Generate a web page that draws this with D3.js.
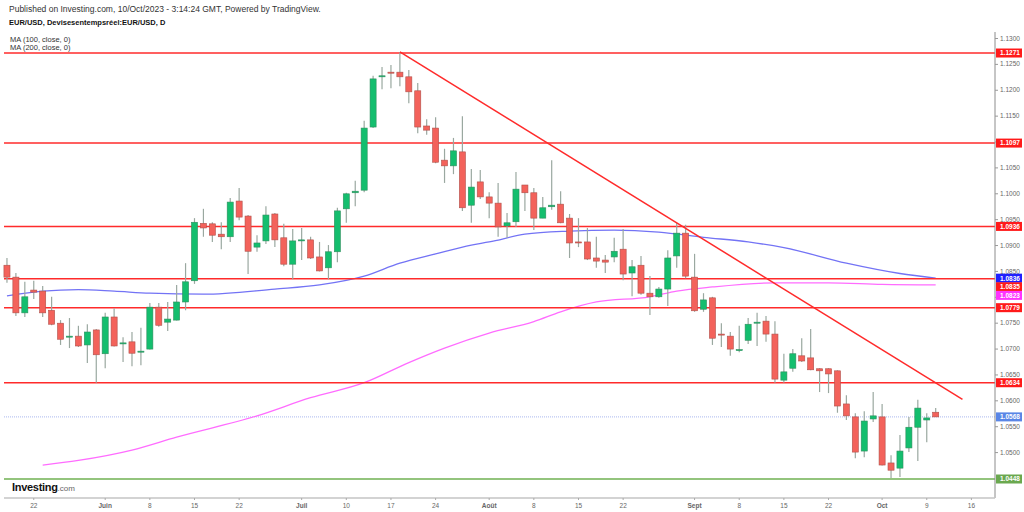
<!DOCTYPE html>
<html>
<head>
<meta charset="utf-8">
<script src="https://cdn.jsdelivr.net/npm/d3@7"></script>
<style>
  body { margin: 0; background: #fff; }
  svg { display: block; font-family: "Liberation Sans", Arial, sans-serif; }
</style>
</head>
<body>
<div id="chart-area"></div>
<script>
// EUR/USD daily candles, 17 May -> 10 Oct 2023
let firstDay = "2023-05-17";
let lastAxisDay = "2023-10-20"; // axis runs a few days past the last candle

let open = [1.0861,1.0838,1.0769,1.0813,1.0811,1.0774,1.0749,1.0722,1.0724,1.0707,1.0736,
  1.0690,1.0761,1.0709,1.0713,1.0693,1.0699,1.0780,1.0751,1.0755,1.0790,1.0831,1.0942,1.0941,1.0921,1.0916,1.0985,1.0956,1.0896,1.0908,1.0960,1.0914,1.0863,
  1.0908,1.0910,1.0877,1.0856,1.0887,1.0970,1.1001,1.1006,1.1128,1.1225,1.1234,1.1234,1.1225,1.1198,1.1130,1.1126,1.1064,1.1053,1.1080,1.0977,1.1022,
  1.0993,1.0981,1.0937,1.0945,1.1016,1.1001,1.0952,1.0974,1.0979,1.0952,1.0906,1.0906,1.0875,1.0871,1.0877,1.0892,1.0846,1.0861,1.0807,1.0800,1.0815,1.0879,1.0923,
  1.0838,1.0776,1.0798,1.0728,1.0724,1.0696,1.0716,1.0749,1.0753,1.0728,1.0639,1.0662,1.0686,1.0682,1.0661,1.0661,1.0657,1.0593,1.0568,1.0502,1.0564,
  1.0568,1.0479,1.0469,1.0508,1.0548,1.0562,1.0577];
let high = [1.0875,1.0846,1.0829,1.0831,1.0821,1.0800,1.0755,1.0759,1.0744,1.0747,1.0738,
  1.0769,1.0778,1.0722,1.0732,1.0740,1.0788,1.0788,1.0790,1.0823,1.0865,1.0952,1.0970,1.0944,1.0944,1.0991,1.1010,1.0958,1.0919,1.0975,1.0962,1.0941,1.0931,
  1.0933,1.0916,1.0906,1.0900,1.0972,1.1001,1.1024,1.1140,1.1227,1.1244,1.1248,1.1273,1.1238,1.1213,1.1143,1.1147,1.1086,1.1107,1.1149,1.1047,1.1045,
  1.1002,1.1020,1.0962,1.1041,1.1016,1.1010,1.0993,1.1064,1.1004,1.0960,1.0952,1.0933,1.0916,1.0881,1.0914,1.0931,1.0871,1.0879,1.0840,1.0819,1.0890,1.0943,1.0939,
  1.0883,1.0807,1.0800,1.0749,1.0732,1.0744,1.0759,1.0769,1.0763,1.0753,1.0690,1.0699,1.0720,1.0738,1.0662,1.0662,1.0658,1.0610,1.0575,1.0579,1.0616,
  1.0593,1.0494,1.0533,1.0568,1.0601,1.0575,1.0585];
let low = [1.0827,1.0763,1.0761,1.0796,1.0761,1.0745,1.0707,1.0701,1.0703,1.0672,1.0634,
  1.0662,1.0704,1.0674,1.0666,1.0668,1.0698,1.0742,1.0734,1.0754,1.0774,1.0825,1.0916,1.0906,1.0892,1.0906,1.0948,1.0844,1.0887,1.0902,1.0896,1.0859,1.0834,
  1.0871,1.0873,1.0849,1.0834,1.0867,1.0943,1.0975,1.1002,1.1126,1.1201,1.1203,1.1207,1.1174,1.1116,1.1113,1.1058,1.1020,1.1037,1.0966,1.0943,1.0989,
  1.0952,1.0916,1.0914,1.0935,1.0966,1.0929,1.0952,1.0968,1.0942,1.0875,1.0896,1.0871,1.0856,1.0846,1.0867,1.0832,1.0801,1.0804,1.0765,1.0798,1.0782,1.0856,1.0836,
  1.0771,1.0771,1.0707,1.0703,1.0686,1.0693,1.0709,1.0705,1.0713,1.0634,1.0634,1.0655,1.0674,1.0658,1.0616,1.0614,1.0576,1.0562,1.0488,1.0490,1.0558,
  1.0474,1.0450,1.0452,1.0500,1.0483,1.0519,1.0568];
let close = [1.0838,1.0769,1.0800,1.0809,1.0769,1.0747,1.0718,1.0724,1.0705,1.0732,1.0688,
  1.0761,1.0705,1.0711,1.0691,1.0695,1.0780,1.0745,1.0757,1.0790,1.0829,1.0944,1.0933,1.0919,1.0916,1.0983,1.0954,1.0888,1.0904,1.0958,1.0910,1.0863,1.0908,
  1.0910,1.0875,1.0850,1.0887,1.0966,1.0999,1.1004,1.1126,1.1221,1.1227,1.1232,1.1225,1.1196,1.1128,1.1122,1.1060,1.1053,1.1082,1.0972,1.1012,1.0993,
  1.0981,1.0935,1.0943,1.1008,1.1001,1.0952,1.0972,1.0977,1.0943,1.0904,1.0904,1.0873,1.0869,1.0867,1.0888,1.0844,1.0858,1.0807,1.0800,1.0815,1.0875,1.0923,1.0840,
  1.0773,1.0794,1.0720,1.0726,1.0699,1.0698,1.0747,1.0751,1.0728,1.0641,1.0655,1.0690,1.0676,1.0659,1.0657,1.0651,1.0589,1.0570,1.0500,1.0560,1.0570,
  1.0475,1.0465,1.0502,1.0548,1.0585,1.0566,1.0568];

// moving averages
let ma100Dates = ["2023-05-17","2023-05-23","2023-05-29","2023-06-02","2023-06-08","2023-06-16","2023-06-28","2023-07-05",
  "2023-07-12","2023-07-18","2023-07-24","2023-07-28","2023-08-01","2023-08-07","2023-08-14","2023-08-21","2023-08-28",
  "2023-09-04","2023-09-11","2023-09-15","2023-09-26","2023-10-04","2023-10-10"];
let ma100Values = [1.0802,1.0811,1.0814,1.0811,1.0807,1.0805,1.0815,1.0823,1.0840,1.0865,1.0883,1.0900,1.0906,1.0921,
  1.0927,1.0929,1.0925,1.0915,1.0906,1.0895,1.0865,1.0845,1.0836];
let ma200Dates = ["2023-05-23","2023-05-29","2023-06-06","2023-06-13","2023-06-26","2023-07-04","2023-07-12","2023-07-19",
  "2023-07-25","2023-08-01","2023-08-08","2023-08-11","2023-08-17","2023-08-25","2023-08-30","2023-09-05","2023-09-14",
  "2023-09-22","2023-10-02","2023-10-10"];
let ma200Values = [1.0475,1.0484,1.0504,1.0529,1.0570,1.0605,1.0634,1.0673,1.0701,1.0730,1.0752,1.0771,1.0790,1.0800,
  1.0811,1.0819,1.0827,1.0827,1.0824,1.0823];

// drawn levels
let redLevels = [1.1271, 1.1097, 1.0936, 1.0835, 1.0779, 1.0634];
let supportLevel = 1.0448;
let lastPrice = 1.0568;
let trendDates = ["2023-07-18", "2023-10-13"];
let trendValues = [1.1273, 1.0602];

// axis ticks
let priceTicks = [1.05,1.055,1.06,1.065,1.07,1.075,1.08,1.085,1.09,1.095,1.10,1.105,1.11,1.115,1.12,1.125,1.13];
let dateTicks = ["2023-05-22","2023-06-01","2023-06-08","2023-06-15","2023-06-22","2023-07-03","2023-07-10","2023-07-17",
  "2023-07-24","2023-08-01","2023-08-08","2023-08-15","2023-08-22","2023-09-01","2023-09-08","2023-09-15","2023-09-22",
  "2023-10-02","2023-10-09","2023-10-16"];
let dateTickLabels = ["22","Juin","8","15","22","Juil","10","17","24","Août","8","15","22","Sept","8","15","22","Oct","9","16"];
let monthLabels = ["Juin","Juil","Août","Sept","Oct"];

// ---- layout
let W = 1024, H = 512;
let plot = { lft: 4, rht: 995, top: 32, bot: 498 };

let fmt = d3.utcFormat("%Y-%m-%d");
let parse = d3.utcParse("%Y-%m-%d");
// trading days (forex: every weekday)
let axisDays = d3.utcDay.range(parse(firstDay), parse(lastAxisDay))
  .filter(d => d.getUTCDay() !== 0 && d.getUTCDay() !== 6)
  .map(fmt);

let candles = open.map((o, i) => ({
  date: axisDays[i], o: o, h: high[i], l: low[i], c: close[i]
}));

let svg = d3.select("#chart-area")
  .append("svg")
    .attr("width", W)
    .attr("height", H);

svg.append("rect").attr("width", W).attr("height", H).attr("fill", "#fff");

// scales
let x = d3.scaleBand()
  .domain(axisDays)
  .range([2.5, 2.5 + axisDays.length * 8.93])
  .paddingInner(0.32)
  .paddingOuter(0.16);
let xc = d => x(d) + x.bandwidth() / 2;

let y = d3.scaleLinear()
  .domain([1.04113, 1.13116])
  .range([plot.bot, plot.top]);

// header
svg.append("text")
  .attr("x", 9).attr("y", 12)
  .attr("font-size", "8.5px").attr("fill", "#333")
  .text("Published on Investing.com, 10/Oct/2023 - 3:14:24 GMT, Powered by TradingView.");
svg.append("text")
  .attr("x", 9).attr("y", 25)
  .attr("font-size", "7.5px").attr("font-weight", "bold").attr("fill", "#111")
  .text("EUR/USD, Devisesentempsréel:EUR/USD, D");
svg.append("text")
  .attr("x", 10).attr("y", 42)
  .attr("font-size", "7.5px").attr("fill", "#333")
  .text("MA (100, close, 0)");
svg.append("text")
  .attr("x", 10).attr("y", 50)
  .attr("font-size", "7.5px").attr("fill", "#333")
  .text("MA (200, close, 0)");

// last price dotted line
svg.append("line")
  .attr("x1", plot.lft).attr("x2", plot.rht)
  .attr("y1", y(lastPrice)).attr("y2", y(lastPrice))
  .attr("stroke", "#aab9ee").attr("stroke-width", 1)
  .attr("stroke-dasharray", "1,1");

// moving averages
let maLine = d3.line()
  .x(d => xc(d[0]))
  .y(d => y(d[1]))
  .curve(d3.curveMonotoneX);

svg.append("path")
  .datum(d3.zip(ma200Dates, ma200Values))
  .attr("d", maLine)
  .attr("fill", "none")
  .attr("stroke", "#ff6cff").attr("stroke-width", 1.3);
svg.append("path")
  .datum(d3.zip(ma100Dates, ma100Values))
  .attr("d", maLine)
  .attr("fill", "none")
  .attr("stroke", "#7373f5").attr("stroke-width", 1.3);

// horizontal levels
svg.selectAll(".level")
  .data(redLevels)
  .enter().append("line")
    .attr("class", "level")
    .attr("x1", plot.lft).attr("x2", plot.rht)
    .attr("y1", d => y(d)).attr("y2", d => y(d))
    .attr("stroke", "#ff2b2b").attr("stroke-width", 1.5);

svg.append("line")
  .attr("x1", plot.lft).attr("x2", plot.rht)
  .attr("y1", y(supportLevel)).attr("y2", y(supportLevel))
  .attr("stroke", "#93c47d").attr("stroke-width", 2);

// candles
let cg = svg.append("g");
cg.selectAll(".wick")
  .data(candles)
  .enter().append("line")
    .attr("x1", d => xc(d.date)).attr("x2", d => xc(d.date))
    .attr("y1", d => y(d.h)).attr("y2", d => y(d.l))
    .attr("stroke", "#9aa8a0").attr("stroke-width", 1.2);

cg.selectAll(".body")
  .data(candles)
  .enter().append("rect")
    .attr("x", d => x(d.date))
    .attr("width", x.bandwidth())
    .attr("y", d => y(Math.max(d.o, d.c)))
    .attr("height", d => Math.max(1, Math.abs(y(d.o) - y(d.c))))
    .attr("fill", d => d.c >= d.o ? "#14be6e" : "#f3625b")
    .attr("stroke", d => d.c >= d.o ? "#2f8f5e" : "#b0514b")
    .attr("stroke-width", 0.6);

// trend line
svg.append("line")
  .attr("x1", xc(trendDates[0])).attr("y1", y(trendValues[0]))
  .attr("x2", xc(trendDates[1])).attr("y2", y(trendValues[1]))
  .attr("stroke", "#ff2b2b").attr("stroke-width", 1.5);

// right price axis
svg.append("line")
  .attr("x1", plot.rht).attr("x2", plot.rht)
  .attr("y1", plot.top).attr("y2", plot.bot)
  .attr("stroke", "#8c8c8c");

let yAxisCall = d3.axisRight(y)
  .tickValues(priceTicks)
  .tickSize(3)
  .tickFormat(d => d.toFixed(4));
let ya = svg.append("g")
  .attr("transform", `translate(${plot.rht}, 0)`)
  .call(yAxisCall);
ya.select(".domain").remove();
ya.selectAll("line").attr("stroke", "#999");
ya.selectAll("text")
  .attr("x", 5)
  .attr("font-size", "6.5px")
  .attr("font-family", "Liberation Sans, Arial, sans-serif")
  .attr("fill", "#666");

// price labels on the axis
let tags = redLevels.map(v => ({ v: v, color: "#ff1a1a" }))
  .concat([
    { v: ma100Values[ma100Values.length - 1], color: "#1f1fff" },
    { v: ma200Values[ma200Values.length - 1], color: "#ff33ff" },
    { v: lastPrice, color: "#5a86e6" },
    { v: supportLevel, color: "#6aa84f" }
  ])
  .sort((a, b) => b.v - a.v);
let lastY = -100;
tags.forEach(t => {
  t.y = Math.max(y(t.v), lastY + 8.6);
  lastY = t.y;
});
let tg = svg.selectAll(".tag")
  .data(tags)
  .enter().append("g")
    .attr("transform", d => `translate(${plot.rht + 1}, ${d.y})`);
tg.append("rect")
  .attr("x", 0).attr("y", -4.5)
  .attr("width", 26).attr("height", 9)
  .attr("fill", d => d.color);
tg.append("text")
  .attr("x", 4).attr("y", 2.4)
  .attr("font-size", "6.5px").attr("font-weight", "bold")
  .attr("fill", "#fff")
  .text(d => d.v.toFixed(4));

// bottom date axis
svg.append("line")
  .attr("x1", plot.lft).attr("x2", plot.rht)
  .attr("y1", plot.bot).attr("y2", plot.bot)
  .attr("stroke", "#c4c4c4").attr("stroke-width", 1.5);

let xAxisCall = d3.axisBottom(x)
  .tickValues(dateTicks)
  .tickSize(2)
  .tickFormat((d, i) => dateTickLabels[i]);
let xa = svg.append("g")
  .attr("transform", `translate(0, ${plot.bot})`)
  .call(xAxisCall);
xa.select(".domain").remove();
xa.selectAll("line").attr("stroke", "#aaa");
xa.selectAll("text")
  .attr("y", 5)
  .attr("font-size", "6.5px")
  .attr("font-family", "Liberation Sans, Arial, sans-serif")
  .attr("font-weight", (d, i) => monthLabels.includes(dateTickLabels[i]) ? "bold" : "normal")
  .attr("fill", "#666");

// Investing.com mark
let logo = svg.append("text")
  .attr("x", 12).attr("y", 491);
logo.append("tspan")
  .attr("font-size", "11px").attr("font-weight", "bold")
  .attr("letter-spacing", "-0.3").attr("fill", "#111")
  .text("Investing");
logo.append("tspan")
  .attr("font-size", "8px").attr("fill", "#666")
  .text(".com");
</script>
</body>
</html>
